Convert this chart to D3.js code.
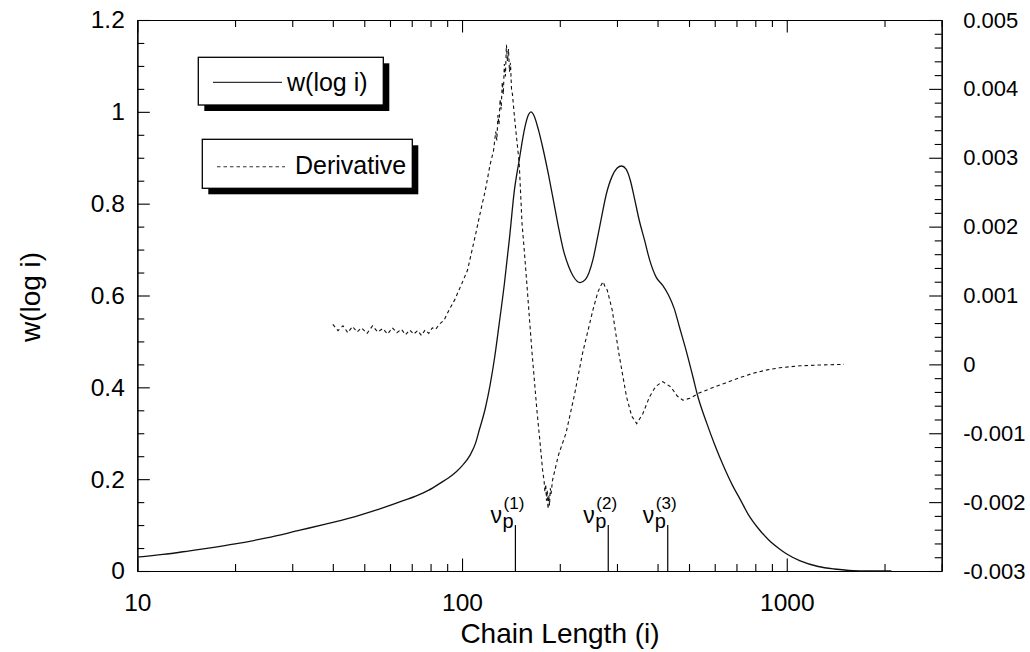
<!DOCTYPE html>
<html>
<head>
<meta charset="utf-8">
<script src="https://cdn.jsdelivr.net/npm/d3@7"></script>
<style>
  body { margin: 0; background: #fff; }
  text { font-family: "Liberation Sans", Arial, sans-serif; fill: #000; }
</style>
</head>
<body>
<svg id="chart" width="1030" height="652"></svg>
<script>
// Weight distribution w(log i) versus chain length i (left axis)
const chainLength = [10, 12, 14.5, 17, 20, 25, 31.7, 38, 45, 54, 64, 72, 79, 86, 91, 96, 100, 106, 110, 113,
  118, 122, 126, 130, 135, 140, 145, 150, 156, 160, 163, 167, 172, 177, 185, 192, 198, 205, 213, 220,
  231, 240, 253, 262, 268, 278, 290, 300, 310, 320, 330, 340, 351, 365, 378, 396, 415, 433, 450, 467,
  490, 514, 530, 567, 600, 640, 680, 720, 760, 820, 880, 950, 1000, 1100, 1250, 1400, 1600, 2100];
const weight = [0.030, 0.036, 0.044, 0.051, 0.059, 0.072, 0.089, 0.102, 0.115, 0.132, 0.150, 0.163, 0.176, 0.192, 0.203, 0.216, 0.229, 0.253, 0.278, 0.307,
  0.355, 0.405, 0.465, 0.536, 0.625, 0.725, 0.830, 0.895, 0.965, 0.993, 1.000, 0.990, 0.960, 0.924, 0.860, 0.800, 0.750, 0.700, 0.663, 0.642,
  0.628, 0.635, 0.678, 0.730, 0.765, 0.820, 0.860, 0.877, 0.882, 0.875, 0.850, 0.810, 0.765, 0.720, 0.678, 0.640, 0.622, 0.600, 0.572, 0.532,
  0.480, 0.423, 0.385, 0.322, 0.275, 0.227, 0.187, 0.155, 0.124, 0.0915, 0.0675, 0.048, 0.037, 0.022, 0.0098, 0.0044, 0.001, 0];

// Derivative of the distribution (right axis)
const derivLength = [40, 41.5, 43, 44.5, 46, 47.5, 49, 51, 53, 55, 57, 59, 61, 63, 65, 67, 69, 71, 73, 75, 77, 79, 81, 83, 85,
  88, 91, 95, 100, 104, 110, 114, 118, 122, 125, 127, 128, 129, 130, 131, 132, 133, 134, 135, 136, 137, 138, 139, 140,
  141, 142, 143, 145, 147, 150, 153, 155.5, 158, 164, 170, 174, 177, 179, 180, 181, 182, 183, 184, 185, 186, 187, 188,
  190, 194, 198, 209, 222, 235, 253, 262, 268, 272, 276, 280, 290, 304, 321, 333, 345, 360, 378, 395, 415, 440, 460,
  479, 505, 535, 590, 648, 720, 786, 870, 950, 1100, 1250, 1500];
const derivValue = [0.00058, 0.00049, 0.00056, 0.00046, 0.00055, 0.00047, 0.00053, 0.00045, 0.00056, 0.00047, 0.00052, 0.00044, 0.00053, 0.00046, 0.00051, 0.00043, 0.00050, 0.00044, 0.00049, 0.00042, 0.00050, 0.00045, 0.00053, 0.00051, 0.00058,
  0.00064, 0.00078, 0.00094, 0.00118, 0.00137, 0.00188, 0.00222, 0.00253, 0.00290, 0.00310, 0.00338, 0.00325, 0.00362, 0.00348, 0.00385, 0.00370, 0.00410, 0.00392, 0.00436, 0.00418, 0.00464, 0.00440, 0.00458, 0.00425,
  0.00438, 0.00400, 0.00392, 0.00360, 0.00332, 0.00292, 0.00205, 0.00165, 0.00123, 0.00021, -0.00066, -0.00115, -0.00153, -0.00170, -0.00185, -0.00174, -0.00198, -0.00183, -0.00210, -0.00190, -0.00205, -0.00180, -0.00188,
  -0.00168, -0.00150, -0.00132, -0.00100, -0.00044, 0.00016, 0.00079, 0.00105, 0.00115, 0.00120, 0.00112, 0.00108, 0.00079, 0.00016, -0.00047, -0.00075, -0.00086, -0.00072, -0.00047, -0.00032, -0.00025, -0.00033, -0.00046,
  -0.00052, -0.00049, -0.00042, -0.00034, -0.00027, -0.00019, -0.00013, -0.00008, -0.00005, -0.00002, -0.00001, 0];

// Peak chain lengths marked along the x axis
const peakLength = [146, 282, 430];
const peakIndex = ["(1)", "(2)", "(3)"];
const peakMarkHeight = 0.1;

// Axis ticks
const xMajorTicks = [10, 100, 1000];
const leftMajorTicks = [0, 0.2, 0.4, 0.6, 0.8, 1.0, 1.2];
const rightMajorTicks = [-0.003, -0.002, -0.001, 0, 0.001, 0.002, 0.003, 0.004, 0.005];
const seriesNames = ["w(log i)", "Derivative"];

const svg = d3.select("#chart");
const plotLeft = 137.3, plotRight = 941.7, plotTop = 20, plotBottom = 571;

const x = d3.scaleLog().domain([10, 3000]).range([plotLeft, plotRight]);
const yL = d3.scaleLinear().domain([0, 1.2]).range([plotBottom, plotTop]);
const yR = d3.scaleLinear().domain([-0.003, 0.005]).range([plotBottom, plotTop]);

// Minor tick positions
const xMinorTicks = [];
[10, 100, 1000].forEach(d => { for (let k = 2; k <= 9; k++) { const v = d * k; if (v <= 3000) xMinorTicks.push(v); } });
const leftMinorTicks = d3.range(0, 25).map(k => k * 0.05).filter(v => Math.abs(v / 0.2 - Math.round(v / 0.2)) > 1e-6);
const rightMinorTicks = d3.range(0, 41).map(k => -0.003 + k * 0.0002).filter(v => Math.abs(v / 0.001 - Math.round(v / 0.001)) > 1e-6);

const MAJOR = 12.5, MINOR = 7;
const fmtL = v => String(+v.toFixed(1));
const fmtR = v => Math.abs(v) < 1e-9 ? "0" : v.toFixed(3);

function styleAxis(g, fontSize) {
  g.attr("font-family", null).attr("font-size", null);
  g.selectAll("path.domain").attr("stroke", "#000").attr("stroke-width", 1.2);
  g.selectAll(".tick line").attr("stroke", "#000").attr("stroke-width", 1.1);
  g.selectAll(".tick text").attr("font-size", fontSize).attr("fill", "#000");
}

// Bottom axis
const gB = svg.append("g").attr("transform", `translate(0,${plotBottom})`);
gB.call(d3.axisBottom(x).tickValues(xMajorTicks).tickFormat(d3.format("d")).tickSizeInner(-MAJOR).tickSizeOuter(0).tickPadding(23));
styleAxis(gB, 24.5);
const gBm = svg.append("g").attr("transform", `translate(0,${plotBottom})`);
gBm.call(d3.axisBottom(x).tickValues(xMinorTicks).tickFormat("").tickSizeInner(-MINOR).tickSizeOuter(0));
styleAxis(gBm, 24);

// Top axis (ticks only)
const gT = svg.append("g").attr("transform", `translate(0,${plotTop})`);
gT.call(d3.axisTop(x).tickValues(xMajorTicks).tickFormat("").tickSizeInner(-MAJOR).tickSizeOuter(0));
styleAxis(gT, 24);
const gTm = svg.append("g").attr("transform", `translate(0,${plotTop})`);
gTm.call(d3.axisTop(x).tickValues(xMinorTicks).tickFormat("").tickSizeInner(-MINOR).tickSizeOuter(0));
styleAxis(gTm, 24);

// Left axis
const gL = svg.append("g").attr("transform", `translate(${plotLeft},0)`);
gL.call(d3.axisLeft(yL).tickValues(leftMajorTicks).tickFormat(fmtL).tickSizeInner(-MAJOR).tickSizeOuter(0).tickPadding(12.5));
styleAxis(gL, 24.5);
const gLm = svg.append("g").attr("transform", `translate(${plotLeft},0)`);
gLm.call(d3.axisLeft(yL).tickValues(leftMinorTicks).tickFormat("").tickSizeInner(-MINOR).tickSizeOuter(0));
styleAxis(gLm, 24);

// Right axis
const gR = svg.append("g").attr("transform", `translate(${plotRight},0)`);
gR.call(d3.axisRight(yR).tickValues(rightMajorTicks).tickFormat(fmtR).tickSizeInner(-MAJOR).tickSizeOuter(0).tickPadding(21.5));
styleAxis(gR, 22);
const gRm = svg.append("g").attr("transform", `translate(${plotRight},0)`);
gRm.call(d3.axisRight(yR).tickValues(rightMinorTicks).tickFormat("").tickSizeInner(-MINOR).tickSizeOuter(0));
styleAxis(gRm, 22);

// Axis titles
svg.append("text").attr("x", 560).attr("y", 643).attr("text-anchor", "middle")
  .attr("font-size", 28).text("Chain Length (i)");
svg.append("text").attr("transform", "translate(40,297) rotate(-90)").attr("text-anchor", "middle")
  .attr("font-size", 28).text("w(log i)");

// Curves
const wData = chainLength.map((c, k) => [c, weight[k]]);
const dData = derivLength.map((c, k) => [c, derivValue[k]]);

svg.append("path").datum(wData)
  .attr("fill", "none").attr("stroke", "#111").attr("stroke-width", 1.3)
  .attr("d", d3.line().x(d => x(d[0])).y(d => yL(d[1])).curve(d3.curveMonotoneX));

svg.append("path").datum(dData)
  .attr("fill", "none").attr("stroke", "#111").attr("stroke-width", 1.1)
  .attr("stroke-dasharray", "3.5,3")
  .attr("d", d3.line().x(d => x(d[0])).y(d => yR(d[1])));

// Peak markers: vertical line plus a ν_p^(k) label built from tspans
const peaks = svg.append("g");
peakLength.forEach((p, k) => {
  const px = x(p);
  peaks.append("line").attr("x1", px).attr("x2", px).attr("y1", yL(0)).attr("y2", yL(peakMarkHeight))
    .attr("stroke", "#000").attr("stroke-width", 1.2);
  const t = peaks.append("text").attr("x", px - 25).attr("y", 523).attr("font-size", 23);
  t.append("tspan").text("ν");
  t.append("tspan").attr("font-size", 20).attr("dx", 0.5).attr("dy", 5).text("p");
  t.append("tspan").attr("font-size", 17).attr("dx", -10).attr("dy", -19).text(peakIndex[k]);
});

// Legend boxes with drop shadows
function legendBox(bx, by, bw, bh, dashed, label, lx1, lx2, ly, tx, ty) {
  const g = svg.append("g");
  g.append("rect").attr("x", bx + 6).attr("y", by + 6).attr("width", bw).attr("height", bh).attr("fill", "#000");
  g.append("rect").attr("x", bx).attr("y", by).attr("width", bw).attr("height", bh)
    .attr("fill", "#fff").attr("stroke", "#000").attr("stroke-width", 1.3);
  g.append("line").attr("x1", lx1).attr("x2", lx2).attr("y1", ly).attr("y2", ly)
    .attr("stroke", "#333").attr("stroke-width", dashed ? 1.1 : 1.3)
    .attr("stroke-dasharray", dashed ? "3.5,3" : null);
  g.append("text").attr("x", tx).attr("y", ty).attr("font-size", 25).text(label);
}
legendBox(198.3, 57.3, 185, 47.7, false, seriesNames[0], 213, 282, 82.3, 287, 91);
legendBox(202.3, 139.3, 210, 49, true, seriesNames[1], 217, 285, 166.7, 295, 174);
</script>
</body>
</html>
